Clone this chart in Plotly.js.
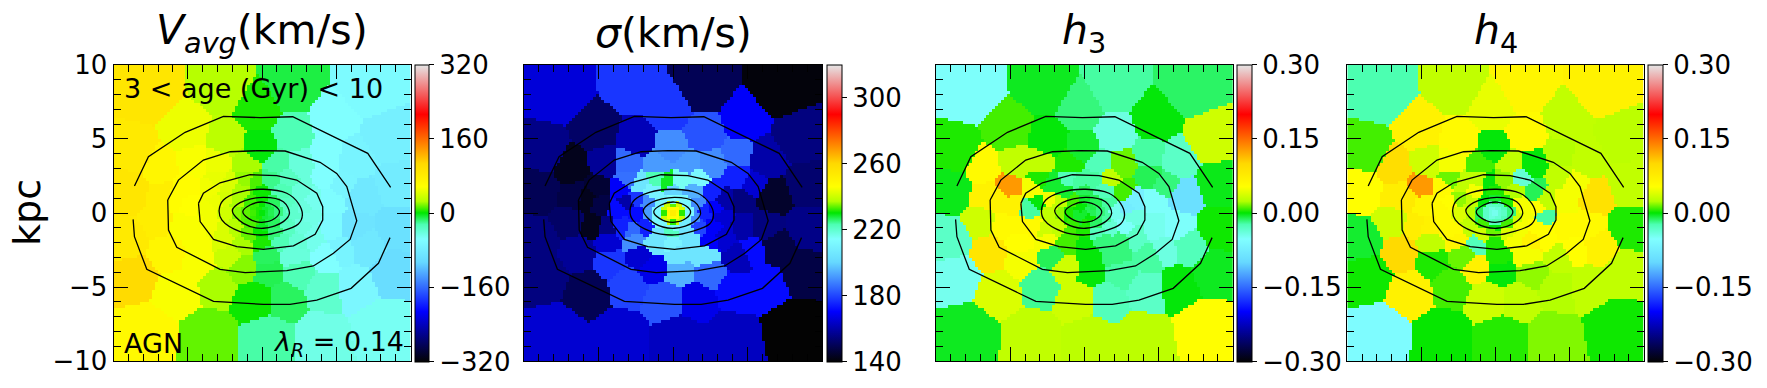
<!DOCTYPE html>
<html>
<head>
<meta charset="utf-8">
<script src="https://cdn.plot.ly/plotly-3.0.1.min.js"></script>
<style>html,body{margin:0;padding:0;background:#fff}</style>
</head>
<body>
<div id="chart" style="width:1767px;height:388px"></div>
<script>
/* bin centres (kpc), shared by all four maps */
const binX = [
  -7.6,-2.6,2.0,7.2,-8.5,-8.8,-9.0,-8.5,-7.8,-3.55,0.43,3.87,8.13,8.4,8.9,9.0,8.6,
  -5.1,-0.3,4.7,-2.4,2.1,-0.15,-6.78,-4.98,-4.64,-2.96,-1.05,0.98,2.55,4.35,6.15,
  6.7,6.15,6.93,6.26,4.12,1.54,-0.48,-2.96,-5.65,-6.33,-4.19,-2.17,-1.27,0.42,2.44,
  0.3,2.1,4.35,4.8,4.6,4.35,-5.38,-4.93,-5.9,-6.8,-6.6,-4.4,-4.3,5.3,5.3,
  -1.03,-0.47,0.65,1.66,-2.27,-2.94,-3.5,-1.37,-0.02,1.33,2.67,3.46,-3.17,-2.38,-3.62,-2.38,-1.71,1.55,
  2.0,2.9,3.08,-1.82,-2.72,-0.92,-0.13,0.88,1.78,2.67,-3.4,-2.49,-1.37,-0.02,1.33,2.45,3.35,
  0,-0.25,0.25,-0.25,0.25,
  -0.65,0.65,0,0,-0.45,0.45,-0.45,0.45,
  -1.1,1.1,0,0,-0.75,0.75,-0.75,0.75,
  -1.55,1.5
];
const binY = [
  8.0,8.3,8.3,8.3,4.1,1.6,-1.85,-4.1,-8.1,-8.2,-8.4,-8.4,-7.6,5.0,1.8,-0.95,-3.9,
  5.5,6.9,6.1,4.8,5.2,4.3,3.1,1.78,3.35,3.35,3.24,3.24,3.24,3.9,3.57,
  1.1,-0.92,-2.27,-4.74,-4.97,-5.64,-5.64,-4.74,-5.15,-2.6,-3.17,-2.72,-3.62,-3.96,-4.07,
  -2.72,-2.72,-2.94,-0.92,0.9,2.45,-0.7,0.43,0.9,-0.5,1.1,-0.92,-1.9,1.9,-2.4,
  2.25,2.07,2.25,2.36,2.02,2.25,1.57,1.46,1.46,1.46,1.46,0.9,0.67,0.9,0.22,0,0.67,0.56,
  0,0.22,-0.16,-0.9,-1.12,-1.35,-1.24,-1.24,-0.9,-0.9,-0.9,-1.8,-2.02,-2.02,-1.8,-1.8,-1.57,
  0,0.15,0.15,-0.2,-0.2,
  0,0,0.5,-0.55,0.38,0.38,-0.42,-0.42,
  0,0,0.9,-0.9,0.65,0.65,-0.7,-0.7,
  0,-0.3
];
const vavgBins = [
  90,28,-8,-60,85,90,85,105,65,15,-22,-45,-50,-75,-80,-95,-100,
  50,5,-55,30,-25,0,70,62,55,50,25,-22,-40,-55,-70,
  -85,-90,-85,-65,-35,-12,3,25,55,70,55,35,20,-10,-25,
  -12,-40,-55,-60,-58,-55,55,58,62,80,80,55,55,-68,-70,
  22,12,-18,-30,42,48,52,25,3,-25,-40,-48,50,40,52,38,25,-30,
  -35,-42,-45,28,42,15,2,-15,-30,-42,52,42,25,5,-25,-38,-47,
  0,5,-5,5,-6,
  10,-10,2,-2,8,-8,8,-8,
  14,-16,3,-3,10,-12,12,-12,
  20,-25
];
const sigmaBins = [
  166,178,150,141,156,150,155,155,165,165,163,163,140,155,153,156,148,
  152,178,170,162,182,190,143,146,158,185,192,192,190,185,160,
  145,155,148,172,172,168,182,180,150,158,178,165,168,195,185,
  205,205,162,160,155,175,143,148,143,152,148,155,165,165,172,
  223,229,216,212,205,186,170,210,200,195,175,160,160,178,172,172,190,190,
  175,170,165,175,185,205,222,205,180,170,175,190,205,210,205,170,165,
  252,248,248,246,247,
  232,232,234,232,240,241,240,240,
  212,212,214,212,210,212,212,208,
  192,190
];
const h3Bins = [
  -0.05,-0.003,-0.02,-0.012,0.005,-0.002,-0.03,-0.045,-0.003,0.03,0.028,0.028,0.055,0.035,-0.002,0.003,-0.003,
  0.01,-0.015,0,0,-0.04,-0.005,0.06,0.13,0.03,0.03,0.005,-0.025,0.015,-0.02,-0.03,
  -0.09,-0.05,-0.025,0,-0.03,-0.025,0.035,-0.018,0.04,0.085,0.05,-0.01,0.035,0,-0.02,
  0,-0.015,-0.02,-0.045,-0.05,-0.01,0.06,0.07,0.07,0.035,0.07,0.06,0.055,-0.015,-0.04,
  -0.025,-0.02,-0.02,0.03,-0.005,0.005,0.05,-0.005,-0.01,-0.025,0.01,-0.07,0,0.05,-0.02,0.03,0.03,-0.02,
  -0.045,-0.075,-0.04,0.03,0.035,0.01,0.005,-0.025,-0.035,-0.05,0.06,0.05,0.01,0,-0.015,-0.015,-0.03,
  -0.005,0,-0.01,-0.005,0,
  -0.005,-0.01,0,0.005,0.002,-0.008,-0.005,0.003,
  0.005,-0.015,-0.005,0.005,0.01,-0.01,0.008,-0.012,
  0.02,-0.02
];
const h4Bins = [
  -0.022,0.03,0.065,0.07,0.01,0.055,-0.005,0.003,-0.055,0.002,0.006,0.018,0.003,0.028,0.03,0.005,0.03,
  0.07,0.045,0.03,0.06,0.06,0,0.095,0.13,0.035,0.05,0.01,0.03,0,0.025,0.03,
  0.09,0.06,0.07,0.03,0.025,0.03,0.035,0.01,0.07,0.1,0.005,0.015,0.07,0,0.02,
  0.005,0.05,0.03,0.06,0.05,0.03,0.075,0.065,0.08,0.035,0.075,0.07,0.03,0.05,0.055,
  0.03,0,0.02,-0.035,0.03,0.015,0.06,0.05,0.005,0.025,-0.01,0.03,0.055,0.02,0.06,0.04,0.03,0.05,
  0.05,0.055,-0.02,0.03,0.06,0.035,0.015,0.04,0.05,0.055,0.06,0.065,-0.025,0.005,0.05,0.07,0.055,
  -0.045,-0.04,-0.035,-0.04,-0.035,
  -0.03,-0.03,-0.028,-0.025,-0.03,-0.025,-0.03,-0.025,
  -0.01,-0.015,-0.005,0,0,0.005,0.01,0.01,
  0.025,0.035
];

/* surface-brightness isophotes (kpc) */
const isoOuterTopX = [-8.59,-7.65,-5.18,-2.6,-0.13,2.06,4.8,7.11,8.65];
const isoOuterTopY = [1.82,3.8,5.44,6.52,6.43,6.49,5.15,4.02,1.73];
const isoOuterBotX = [-8.68,-8.59,-7.76,-3.27,0.09,1.88,3.68,5.99,7.83,8.61];
const isoOuterBotY = [-0.43,-1.6,-3.8,-5.96,-6.16,-6.16,-5.87,-5.08,-3.39,-1.66];
const iso2X = [-6.35,-5.63,-3.95,-2.15,-0.36,1.55,3.9,5.02,5.7,6.37,5.92,4.8,3.45,1.66,-1.14,-2.83,-5.74,-6.3,-6.35];
const iso2Y = [0.88,2.22,3.57,4.13,4.2,4.18,3.42,2.67,1.78,-0.52,-1.78,-2.72,-3.57,-3.89,-4.02,-3.8,-2.31,-1.15,0.88];
const iso3X = [-4.28,-3.95,-2.83,-0.81,0.99,2.33,3.68,4.08,4.08,3.57,2.11,0.09,-1.7,-3.27,-4.17,-4.28];
const iso3Y = [0.65,1.33,2.04,2.58,2.52,2.22,1.33,0.43,-0.47,-1.44,-2.22,-2.45,-2.27,-1.78,-0.58,0.65];
const iso4X = [-2.89,-2.6,-1.59,0.09,1.66,2.44,2.71,2.44,1.21,0.09,-1.48,-2.71,-2.89];
const iso4Y = [0.2,0.88,1.39,1.6,1.33,0.65,-0.13,-0.74,-1.26,-1.48,-1.26,-0.47,0.2];
const iso5X = [-2.0,-1.48,0.09,1.43,1.84,1.43,0.09,-1.26,-2.0];
const iso5Y = [0.16,0.7,1.06,0.76,-0.02,-0.58,-1.03,-0.7,0.16];
const iso6X = [-1.3,-0.81,0.09,0.87,1.17,0.87,-0.02,-0.92,-1.3];
const iso6Y = [0.09,0.54,0.74,0.47,0.09,-0.36,-0.63,-0.36,0.09];

const isoLines = [
  [isoOuterTopX, isoOuterTopY, 'linear'], [isoOuterBotX, isoOuterBotY, 'linear'],
  [iso2X, iso2Y, 'linear'], [iso3X, iso3Y, 'linear'],
  [iso4X, iso4Y, 'spline'], [iso5X, iso5Y, 'spline'], [iso6X, iso6Y, 'spline'],
];

const W = 1767, H = 388;
const FONT = '"DejaVu Sans", sans-serif';

// sauron colormap
const SAURON = [
  [0, 'rgb(3,3,3)'], [0.17, 'rgb(0,0,255)'], [0.336, 'rgb(102,217,255)'], [0.414, 'rgb(128,255,255)'],
  [0.463, 'rgb(77,255,179)'], [0.502, 'rgb(0,230,0)'], [0.541, 'rgb(179,255,0)'], [0.59, 'rgb(255,255,0)'],
  [0.668, 'rgb(255,217,0)'], [0.834, 'rgb(255,0,0)'], [1, 'rgb(230,230,230)'],
];

const panels = [
  { left: 113.5, right: 410.7, cbLeft: 415.3, cbW: 14, values: vavgBins, zmin: -320, zmax: 320,
    ticks: [-320, -160, 0, 160, 320], labels: ['\u2212320', '\u2212160', '0', '160', '320'],
    title: '<i>V</i><sub><i>avg</i></sub>(km/s)' },
  { left: 524, right: 822.3, cbLeft: 826.7, cbW: 14.6, values: sigmaBins, zmin: 140, zmax: 320,
    ticks: [140, 180, 220, 260, 300], labels: ['140', '180', '220', '260', '300'],
    title: '<i>\u03c3</i>(km/s)' },
  { left: 936, right: 1232.7, cbLeft: 1237.3, cbW: 15.4, values: h3Bins, zmin: -0.3, zmax: 0.3,
    ticks: [-0.3, -0.15, 0, 0.15, 0.3], labels: ['\u22120.30', '\u22120.15', '0.00', '0.15', '0.30'],
    title: '<i>h</i><sub>3</sub>' },
  { left: 1347.3, right: 1643.7, cbLeft: 1648.3, cbW: 15.4, values: h4Bins, zmin: -0.3, zmax: 0.3,
    ticks: [-0.3, -0.15, 0, 0.15, 0.3], labels: ['\u22120.30', '\u22120.15', '0.00', '0.15', '0.30'],
    title: '<i>h</i><sub>4</sub>' },
];

const TOP = 64.7, BOTTOM = 361.3;

// pixel grid of the map, each pixel takes the value of the bin it belongs to
const gridAxis = [];
for (let i = 0; i < 100; i++) gridAxis.push(-9.9 + i * 0.2);
const pixelBin = gridAxis.map(y => gridAxis.map(x => {
  let best = 0, bestD = Infinity;
  binX.forEach((bx, k) => {
    const d = (x - bx) ** 2 + (y - binY[k]) ** 2;
    if (d < bestD) { bestD = d; best = k; }
  });
  return best;
}));

const traces = [];
const layout = {
  width: W, height: H,
  margin: { l: 0, r: 0, t: 0, b: 0, autoexpand: false },
  paper_bgcolor: 'white', plot_bgcolor: 'white',
  font: { family: FONT, color: 'black' },
  showlegend: false,
  annotations: [],
};

panels.forEach((p, i) => {
  const n = i === 0 ? '' : String(i + 1);
  const xName = 'x' + n, yName = 'y' + n;
  traces.push({
    type: 'heatmap', x: gridAxis, y: gridAxis,
    z: pixelBin.map(row => row.map(k => p.values[k])),
    xaxis: xName, yaxis: yName,
    zmin: p.zmin, zmax: p.zmax, zsmooth: false, colorscale: SAURON, hoverinfo: 'skip',
    colorbar: {
      x: p.cbLeft / W, xanchor: 'left', xpad: 0, ypad: 0,
      y: 1 - (TOP + BOTTOM) / 2 / H, yanchor: 'middle',
      len: BOTTOM - TOP, lenmode: 'pixels', thickness: p.cbW, thicknessmode: 'pixels',
      outlinecolor: 'black', outlinewidth: 1, borderwidth: 0,
      tickmode: 'array', tickvals: p.ticks, ticktext: p.labels,
      ticks: 'outside', ticklen: 5, tickwidth: 1, tickcolor: 'black',
      tickfont: { family: FONT, size: 26, color: 'black' },
    },
  });
  isoLines.forEach(([lx, ly, shape]) => traces.push({
    type: 'scatter', mode: 'lines', x: lx, y: ly, xaxis: xName, yaxis: yName,
    line: { color: 'black', width: 1.3, shape: shape, smoothing: 1 }, hoverinfo: 'skip',
  }));

  const axis = {
    range: [-10, 10], showgrid: false, zeroline: false, showline: true, linecolor: 'black', linewidth: 1,
    mirror: 'allticks', ticks: 'inside', ticklen: 14, tickwidth: 1, tickcolor: 'black',
    tickmode: 'linear', tick0: 0, dtick: 5,
    minor: { ticks: 'inside', ticklen: 7, tickwidth: 1, tickcolor: 'black', dtick: 1, tick0: 0, showgrid: false },
  };
  layout['xaxis' + n] = {
    ...axis, anchor: yName, domain: [p.left / W, p.right / W], showticklabels: false,
  };
  layout['yaxis' + n] = {
    ...axis, anchor: xName, domain: [1 - BOTTOM / H, 1 - TOP / H], showticklabels: i === 0,
    tickfont: { family: FONT, size: 26, color: 'black' },
  };
  layout.annotations.push({
    text: p.title, xref: 'paper', yref: 'paper', x: (p.left + p.right) / 2 / W, y: 1 - 33 / H,
    xanchor: 'center', yanchor: 'middle', showarrow: false, font: { family: FONT, size: 41, color: 'black' },
  });
});

layout.annotations.push(
  { text: 'kpc', xref: 'paper', yref: 'paper', x: 27 / W, y: 1 - 213 / H, textangle: -90,
    xanchor: 'center', yanchor: 'middle', showarrow: false, font: { family: FONT, size: 38, color: 'black' } },
  { text: '3 &lt; age (Gyr) &lt; 10', xref: 'x', yref: 'y', x: -9.4, y: 8.4, xanchor: 'left', yanchor: 'middle',
    showarrow: false, font: { family: FONT, size: 27, color: 'black' } },
  { text: 'AGN', xref: 'x', yref: 'y', x: -9.4, y: -8.8, xanchor: 'left', yanchor: 'middle',
    showarrow: false, font: { family: FONT, size: 27, color: 'black' } },
  { text: '<i>\u03bb</i><sub><i>R</i></sub> = 0.14', xref: 'x', yref: 'y', x: 9.7, y: -8.8, xanchor: 'right', yanchor: 'middle',
    showarrow: false, font: { family: FONT, size: 27, color: 'black' } }
);

Plotly.newPlot('chart', traces, layout, { displayModeBar: false, staticPlot: true });
</script>
</body>
</html>
